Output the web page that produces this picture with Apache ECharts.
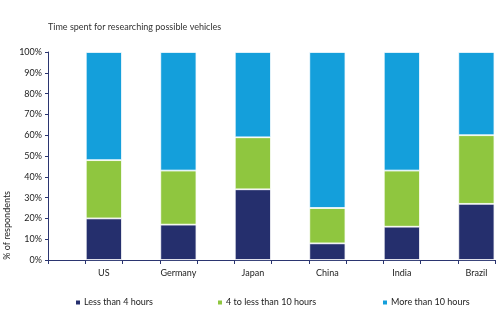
<!DOCTYPE html>
<html>
<head>
<meta charset="utf-8">
<script src="https://cdn.jsdelivr.net/npm/echarts@6/dist/echarts.min.js"></script>
<style>
  html, body { margin: 0; padding: 0; background: #fff; }
  #chart { width: 500px; height: 334px; }
</style>
</head>
<body>
<div id="chart"></div>
<script>
// Survey shares (% of respondents) by country
const countries = ['US', 'Germany', 'Japan', 'China', 'India', 'Brazil'];
const lessThan4 = [20, 17, 34, 8, 16, 27];
const from4To10 = [28, 26, 25, 17, 27, 33];
const moreThan10 = [52, 57, 41, 75, 57, 40];
const seriesNames = ['Less than 4 hours', '4 to less than 10 hours', 'More than 10 hours'];
const yTicks = [0, 10, 20, 30, 40, 50, 60, 70, 80, 90, 100];

const colors = ['#252f6d', '#8fc63f', '#149fdb'];
const axisColor = '#2b3570';
const font = 'Lato';
const fs = 9;

// Each country sits in every second slot, with an empty slot before it
const slots = [];
countries.forEach(c => { slots.push(''); slots.push(c); });
const spread = arr => {
  const out = [];
  arr.forEach(v => { out.push(null); out.push(v); });
  return out;
};

const chart = echarts.init(document.getElementById('chart'));
chart.setOption({
  animation: false,
  textStyle: { fontFamily: font },
  title: {
    text: 'Time spent for researching possible vehicles',
    left: 43, top: 18,
    textStyle: { fontSize: fs, fontWeight: 'normal', color: '#333', fontFamily: font }
  },
  grid: { left: 48, right: 5, top: 52, bottom: 74 },
  legend: [0, 1, 2].map(i => ({
    data: [seriesNames[i]],
    left: [69, 211, 376][i],
    top: 293,
    icon: 'rect',
    itemWidth: 6, itemHeight: 6, itemGap: 3,
    textStyle: { fontSize: fs, color: '#222', fontFamily: font, padding: [0, 0, 0, -2] },
    selectedMode: false
  })),
  xAxis: {
    type: 'category',
    data: slots,
    axisLine: { lineStyle: { color: axisColor, width: 1 } },
    axisTick: { show: true, length: 4, lineStyle: { color: axisColor }, interval: 0 },
    axisLabel: { interval: 0, color: '#222', fontSize: fs, margin: 9, fontFamily: font }
  },
  yAxis: {
    type: 'value',
    min: yTicks[0], max: yTicks[yTicks.length - 1], interval: 10,
    axisLine: { show: true, lineStyle: { color: axisColor, width: 1 } },
    axisTick: { show: true, length: 3, lineStyle: { color: axisColor } },
    splitLine: { show: false },
    axisLabel: { formatter: '{value}%', color: '#222', fontSize: fs, margin: 6, fontFamily: font }
  },
  graphic: [{
    type: 'text',
    left: 3, top: 191,
    rotation: Math.PI / 2,
    style: { text: '% of respondents', fontSize: fs, fill: '#222', fontFamily: font }
  }],
  series: [lessThan4, from4To10, moreThan10].map((arr, i) => ({
    name: seriesNames[i],
    type: 'bar',
    stack: 'total',
    data: spread(arr),
    barCategoryGap: '3%',
    itemStyle: { color: colors[i], borderColor: '#fff', borderWidth: 0.8 }
  }))
});
</script>
</body>
</html>
